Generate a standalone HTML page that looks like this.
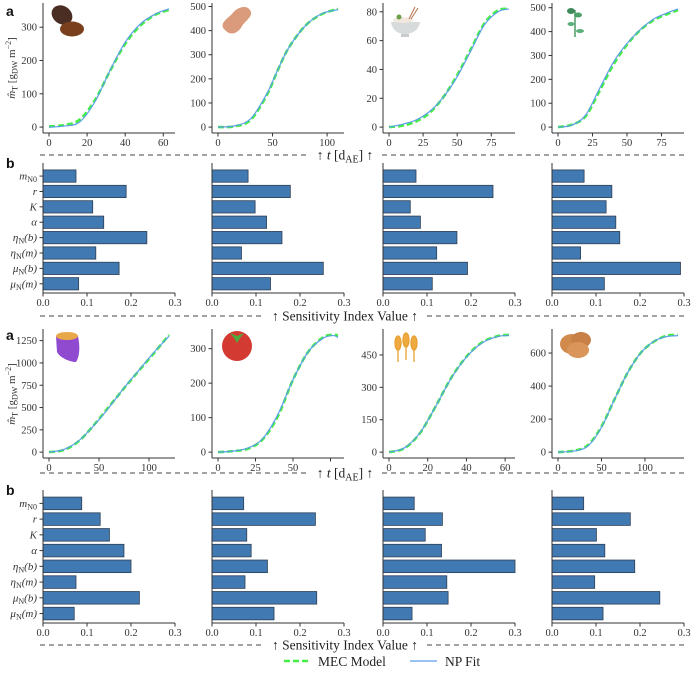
<!DOCTYPE html>
<html><head><meta charset="utf-8"><style>
html,body{margin:0;padding:0;background:#fff;}
svg{display:block;font-family:"Liberation Serif","DejaVu Serif",serif;}
</style></head><body>
<svg id="fig" width="691" height="673" viewBox="0 0 691 673" xmlns="http://www.w3.org/2000/svg">
<g id="icons">
 <g>
  <ellipse cx="62" cy="15" rx="11" ry="9" fill="#4a2e24" transform="rotate(35 62 15)"/>
  <ellipse cx="72" cy="29" rx="12" ry="7.5" fill="#7a3f1c"/>
 </g>
 <g>
  <path d="M225,30 C218,24 228,18 232,14 C236,8 246,4 250,10 C254,16 246,20 242,26 C238,34 230,36 225,30 Z" fill="#d99b7c"/>
 </g>
 <g>
  <path d="M391,22 L420,22 C419,30 412,34 405,34 C398,34 392,30 391,22 Z" fill="#d8dbdc"/>
  <rect x="401" y="34" width="8" height="3" fill="#c9cccd"/>
  <ellipse cx="403" cy="20" rx="10" ry="3" fill="#f1e7df"/>
  <circle cx="399" cy="17" r="2.5" fill="#6aa04a"/>
  <line x1="409" y1="19" x2="415" y2="7" stroke="#b8704a" stroke-width="1"/>
  <line x1="411" y1="19" x2="418" y2="8" stroke="#b8704a" stroke-width="1"/>
 </g>
 <g>
  <line x1="575" y1="10" x2="575" y2="37" stroke="#4e9a66" stroke-width="1.5"/>
  <ellipse cx="571" cy="11" rx="4" ry="3" fill="#3e8a5a"/>
  <ellipse cx="578" cy="15" rx="4" ry="2.5" fill="#4ea06a"/>
  <ellipse cx="571" cy="24" rx="3.5" ry="2" fill="#5bb07a"/>
  <ellipse cx="580" cy="31" rx="4" ry="2" fill="#5bb07a"/>
 </g>
 <g>
  <path d="M56,336 L78,336 C80,346 80,356 76,362 C70,362 60,358 57,352 Z" fill="#8f4ad0"/>
  <ellipse cx="67" cy="336" rx="11" ry="4" fill="#e8a84a"/>
 </g>
 <g>
  <circle cx="237" cy="346" r="15" fill="#d33a32"/>
  <path d="M230,333 L237,336 L244,333 L240,338 L237,343 L234,338 Z" fill="#4caa3c"/>
 </g>
 <g>
  <g stroke="#e8a030" stroke-width="1.3" fill="#eeaa40">
   <line x1="398" y1="337" x2="398" y2="362"/><line x1="406" y1="334" x2="406" y2="360"/><line x1="414" y1="337" x2="414" y2="362"/>
   <ellipse cx="398" cy="343" rx="3" ry="7"/><ellipse cx="406" cy="340" rx="3" ry="7"/><ellipse cx="414" cy="343" rx="3" ry="7"/>
  </g>
 </g>
 <g>
  <ellipse cx="572" cy="344" rx="12" ry="10" fill="#d08a4c"/>
  <ellipse cx="581" cy="340" rx="10" ry="8" fill="#c98046"/>
  <ellipse cx="578" cy="350" rx="11" ry="8" fill="#d9955a"/>
 </g>
</g>
</svg>
<script>
// ---------- data ----------
const crops = ["coffee","peanut","rice","soybean","sweet-potato","tomato","wheat","potato"];
const tCoffee = [0,8,16,24,32,40,48,56,63];
const npCoffee = [0,3,15,75,170,255,310,340,355];
const mecCoffee = [2,6,22,80,168,250,305,338,352];
const tPeanut = [0,15,30,45,55,65,80,95,110];
const npPeanut = [0,5,35,140,240,330,420,470,487];
const mecPeanut = [0,3,30,135,238,330,420,468,490];
const tRice = [0,10,20,30,40,50,60,70,80,88];
const npRice = [0,2,5,11,21,35,53,71,80,82];
const mecRice = [0,1,4,10,21,36,54,72,81,82];
const tSoy = [0,10,20,30,40,50,60,70,80,87];
const npSoy = [0,8,50,160,270,350,410,455,480,495];
const mecSoy = [0,10,45,150,260,345,408,450,475,490];
const tSweet = [0,15,30,45,60,75,90,105,120];
const npSweet = [0,30,130,300,500,720,920,1120,1300];
const mecSweet = [0,25,125,305,510,715,915,1110,1315];
const tTomato = [0,10,20,30,40,50,60,70,77,80];
const npTomato = [0,3,12,40,110,210,290,330,338,332];
const mecTomato = [0,3,10,38,105,210,290,333,340,338];
const tWheat = [0,8,16,24,32,40,48,56,62];
const npWheat = [0,20,90,210,340,440,505,535,540];
const mecWheat = [0,18,88,210,342,442,508,537,543];
const tPotato = [0,20,35,50,65,80,95,110,125,138];
const npPotato = [0,8,40,150,320,480,600,670,700,705];
const mecPotato = [0,10,45,155,320,480,600,668,705,710];
const xTicksList = [[0,20,40,60],[0,50,100],[0,25,50,75],[0,25,50,75],[0,50,100],[0,25,50,75],[0,20,40,60],[0,50,100]];
const yTicksList = [[0,100,200,300],[0,100,200,300,400,500],[0,20,40,60,80],[0,100,200,300,400,500],[0,250,500,750,1000,1250],[0,100,200,300],[0,150,300,450],[0,200,400,600]];
const params = ["m_N0","r","K","alpha","eta_b","eta_m","mu_b","mu_m"];
const siCoffee = [0.075,0.189,0.113,0.138,0.236,0.12,0.173,0.081];
const siPeanut = [0.082,0.178,0.098,0.124,0.159,0.067,0.253,0.133];
const siRice = [0.075,0.25,0.062,0.085,0.168,0.122,0.192,0.112];
const siSoy = [0.073,0.136,0.123,0.145,0.154,0.065,0.292,0.119];
const siSweet = [0.088,0.13,0.151,0.184,0.2,0.075,0.219,0.071];
const siTomato = [0.072,0.235,0.079,0.089,0.126,0.075,0.238,0.141];
const siWheat = [0.071,0.135,0.096,0.133,0.3,0.145,0.148,0.066];
const siPotato = [0.072,0.178,0.101,0.12,0.188,0.097,0.245,0.116];
const barTicks = [0.0,0.1,0.2,0.3];

const tAll=[tCoffee,tPeanut,tRice,tSoy,tSweet,tTomato,tWheat,tPotato];
const npAll=[npCoffee,npPeanut,npRice,npSoy,npSweet,npTomato,npWheat,npPotato];
const mecAll=[mecCoffee,mecPeanut,mecRice,mecSoy,mecSweet,mecTomato,mecWheat,mecPotato];
const siAll=[siCoffee,siPeanut,siRice,siSoy,siSweet,siTomato,siWheat,siPotato];

// ---------- layout ----------
const NS="http://www.w3.org/2000/svg";
const svg=document.getElementById('fig');
const colX=[43,212,383,552], W=132;
const lineRows=[[3,133],[329,458]];
const barRows=[[163,293],[490,623]];
const AX="#333";
function el(tag,attrs,parent){const e=document.createElementNS(NS,tag);for(const k in attrs)e.setAttribute(k,attrs[k]);(parent||svg).appendChild(e);return e;}
function txt(x,y,s,attrs,parent){const e=el('text',Object.assign({x:x,y:y,'font-size':11,fill:'#333'},attrs||{}),parent);e.textContent=s;return e;}
function smooth(pts){let d="M"+pts[0][0]+","+pts[0][1];for(let i=0;i<pts.length-1;i++){const p0=pts[Math.max(0,i-1)],p1=pts[i],p2=pts[i+1],p3=pts[Math.min(pts.length-1,i+2)];
 const c1=[p1[0]+(p2[0]-p0[0])/6,p1[1]+(p2[1]-p0[1])/6],c2=[p2[0]-(p3[0]-p1[0])/6,p2[1]-(p3[1]-p1[1])/6];
 d+=" C"+c1[0].toFixed(2)+","+c1[1].toFixed(2)+" "+c2[0].toFixed(2)+","+c2[1].toFixed(2)+" "+p2[0].toFixed(2)+","+p2[1].toFixed(2);}return d;}

// ---------- line panels ----------
for(let k=0;k<8;k++){
 const row=Math.floor(k/4),col=k%4,x0=colX[col],[yT,yB]=lineRows[row];
 const t=tAll[k],a=npAll[k],b=mecAll[k];
 const tmin=Math.min(...t),tmax=Math.max(...t),tr=tmax-tmin;
 const vmin=Math.min(...a,...b),vmax=Math.max(...a,...b),vr=vmax-vmin;
 const xd=[tmin-0.05*tr,tmax+0.05*tr],yd=[vmin-0.05*vr,vmax+0.05*vr];
 const sx=v=>x0+(v-xd[0])/(xd[1]-xd[0])*W, sy=v=>yB-(v-yd[0])/(yd[1]-yd[0])*(yB-yT);
 const g=el('g',{});
 
 
 const mec=el('path',{d:smooth(t.map((v,i)=>[sx(v),sy(b[i])])),fill:'none',stroke:'#44ee44',"stroke-width":2.6,"stroke-dasharray":"6,3"},g);
 
 
 const np=el('path',{d:smooth(t.map((v,i)=>[sx(v),sy(a[i])])),fill:'none',stroke:'#5b9fe8',"stroke-width":1.2},g);
 
 
 el('line',{x1:x0,y1:yT,x2:x0,y2:yB,stroke:AX,"stroke-width":1},g);
 el('line',{x1:x0,y1:yB,x2:x0+W,y2:yB,stroke:AX,"stroke-width":1},g);
 xTicksList[k].forEach(v=>{const x=sx(v);el('line',{x1:x,y1:yB,x2:x,y2:yB+3.5,stroke:AX},g);
  const tl=txt(x,yB+13,String(v),{"text-anchor":"middle","font-size":10.5},g);
  
  });
 yTicksList[k].forEach(v=>{const y=sy(v);el('line',{x1:x0-3.5,y1:y,x2:x0,y2:y,stroke:AX},g);
  const tl=txt(x0-6,y+3.5,String(v),{"text-anchor":"end","font-size":10.5},g);
  
  });
}

// ---------- bar panels ----------
const labelHTML=[["m","N0",""],["r","",""],["K","",""],["α","",""],["η","N","(b)"],["η","N","(m)"],["μ","N","(b)"],["μ","N","(m)"]];
for(let k=0;k<8;k++){
 const row=Math.floor(k/4),col=k%4,x0=colX[col],[yT,yB]=barRows[row];
 const yd=[-0.85,7.6];
 const sx=v=>x0+v/0.3*W, sy=i=>yT+(i-yd[0])/(yd[1]-yd[0])*(yB-yT);
 const bh=0.8*(yB-yT)/(yd[1]-yd[0]);
 const g=el('g',{});
 
 
 siAll[k].forEach((v,i)=>{
  const r=el('rect',{x:x0,y:sy(i)-bh/2,width:sx(v)-x0,height:bh,fill:'#4179b2',stroke:'#2f3f55',"stroke-width":0.8},g);
  
  
 });
 el('line',{x1:x0,y1:yT,x2:x0,y2:yB,stroke:AX},g);
 el('line',{x1:x0,y1:yB,x2:x0+W,y2:yB,stroke:AX},g);
 barTicks.forEach(v=>{const x=sx(v);el('line',{x1:x,y1:yB,x2:x,y2:yB+3.5,stroke:AX},g);
  const tl=txt(x,yB+13,v.toFixed(1),{"text-anchor":"middle","font-size":10.5},g);
  
  });
 if(col===0){labelHTML.forEach((L,i)=>{const y=sy(i);el('line',{x1:x0-3.5,y1:y,x2:x0,y2:y,stroke:AX},g);
  const t=el('text',{x:x0-6,y:y+3.5,"text-anchor":"end","font-size":11,fill:'#333'},g);
  
  
  const s1=el('tspan',{"font-style":"italic"},t);s1.textContent=L[0];
  if(L[1]){const s2=el('tspan',{"font-size":8,dy:2.5},t);s2.textContent=L[1];}
  if(L[2]){const s3=el('tspan',{dy:L[1]?-2.5:0,"font-style":"italic"},t);s3.textContent=L[2];}
 });}
}

// ---------- annotations ----------
function dashRow(y,label,name){
 const g=el('g',{});
 
 
 el('line',{x1:40,y1:y,x2:688,y2:y,stroke:'#444',"stroke-width":0.9,"stroke-dasharray":"5,4"},g);
 const w=label==="t"?72:160;
 el('rect',{x:345-w/2,y:y-9,width:w,height:16,fill:'#fff'},g);
 const t=el('text',{x:345,y:y+4.5,"text-anchor":"middle","font-size":13.5,fill:'#222'},g);
 if(label==="t"){const a=el('tspan',{},t);a.textContent="↑ ";const b=el('tspan',{"font-style":"italic"},t);b.textContent="t";
  const c=el('tspan',{},t);c.textContent=" [d";const d=el('tspan',{"font-size":10,dy:3},t);d.textContent="AE";
  const e=el('tspan',{dy:-3},t);e.textContent="] ↑";}
 else t.textContent="↑ Sensitivity Index Value ↑";
}
dashRow(155,"t","time-axis-title-top");
dashRow(316,"s","sensitivity-axis-title-top");
dashRow(473,"t","time-axis-title-bottom");
dashRow(645,"s","sensitivity-axis-title-bottom");

[["a",6,16],["b",6,168],["a",6,340],["b",6,495]].forEach(p=>{
 const t=txt(p[1],p[2],p[0],{"font-family":"Liberation Sans, sans-serif","font-weight":"bold","font-size":14,fill:'#111'});
 
 
});
[68,394].forEach(cy=>{
 const t=el('text',{x:0,y:0,"text-anchor":"middle","font-size":11,fill:'#333',transform:`translate(15 ${cy}) rotate(-90)`});
 
 
 const a=el('tspan',{"font-style":"italic"},t);a.textContent="m̂";
 const b=el('tspan',{"font-size":8,dy:2.5},t);b.textContent="T";
 const c=el('tspan',{dy:-2.5},t);c.textContent=" [g";
 const d=el('tspan',{"font-size":8,dy:2.5},t);d.textContent="DW";
 const e=el('tspan',{dy:-2.5},t);e.textContent=" m";
 const f=el('tspan',{"font-size":8,dy:-4},t);f.textContent="−2";
 const h=el('tspan',{dy:4},t);h.textContent="]";
});

// legend
const lg=el('g',{});


const l1=el('line',{x1:284,y1:661,x2:311,y2:661,stroke:'#44ee44',"stroke-width":2.6,"stroke-dasharray":"6,3"},lg);


const t1=txt(318,666,"MEC Model",{"font-size":13.5,fill:'#222'},lg);


const l2=el('line',{x1:410,y1:661,x2:437,y2:661,stroke:'#5b9fe8',"stroke-width":1.2},lg);


const t2=txt(445,666,"NP Fit",{"font-size":13.5,fill:'#222'},lg);


svg.appendChild(document.getElementById('icons'));
</script>
</body></html>
